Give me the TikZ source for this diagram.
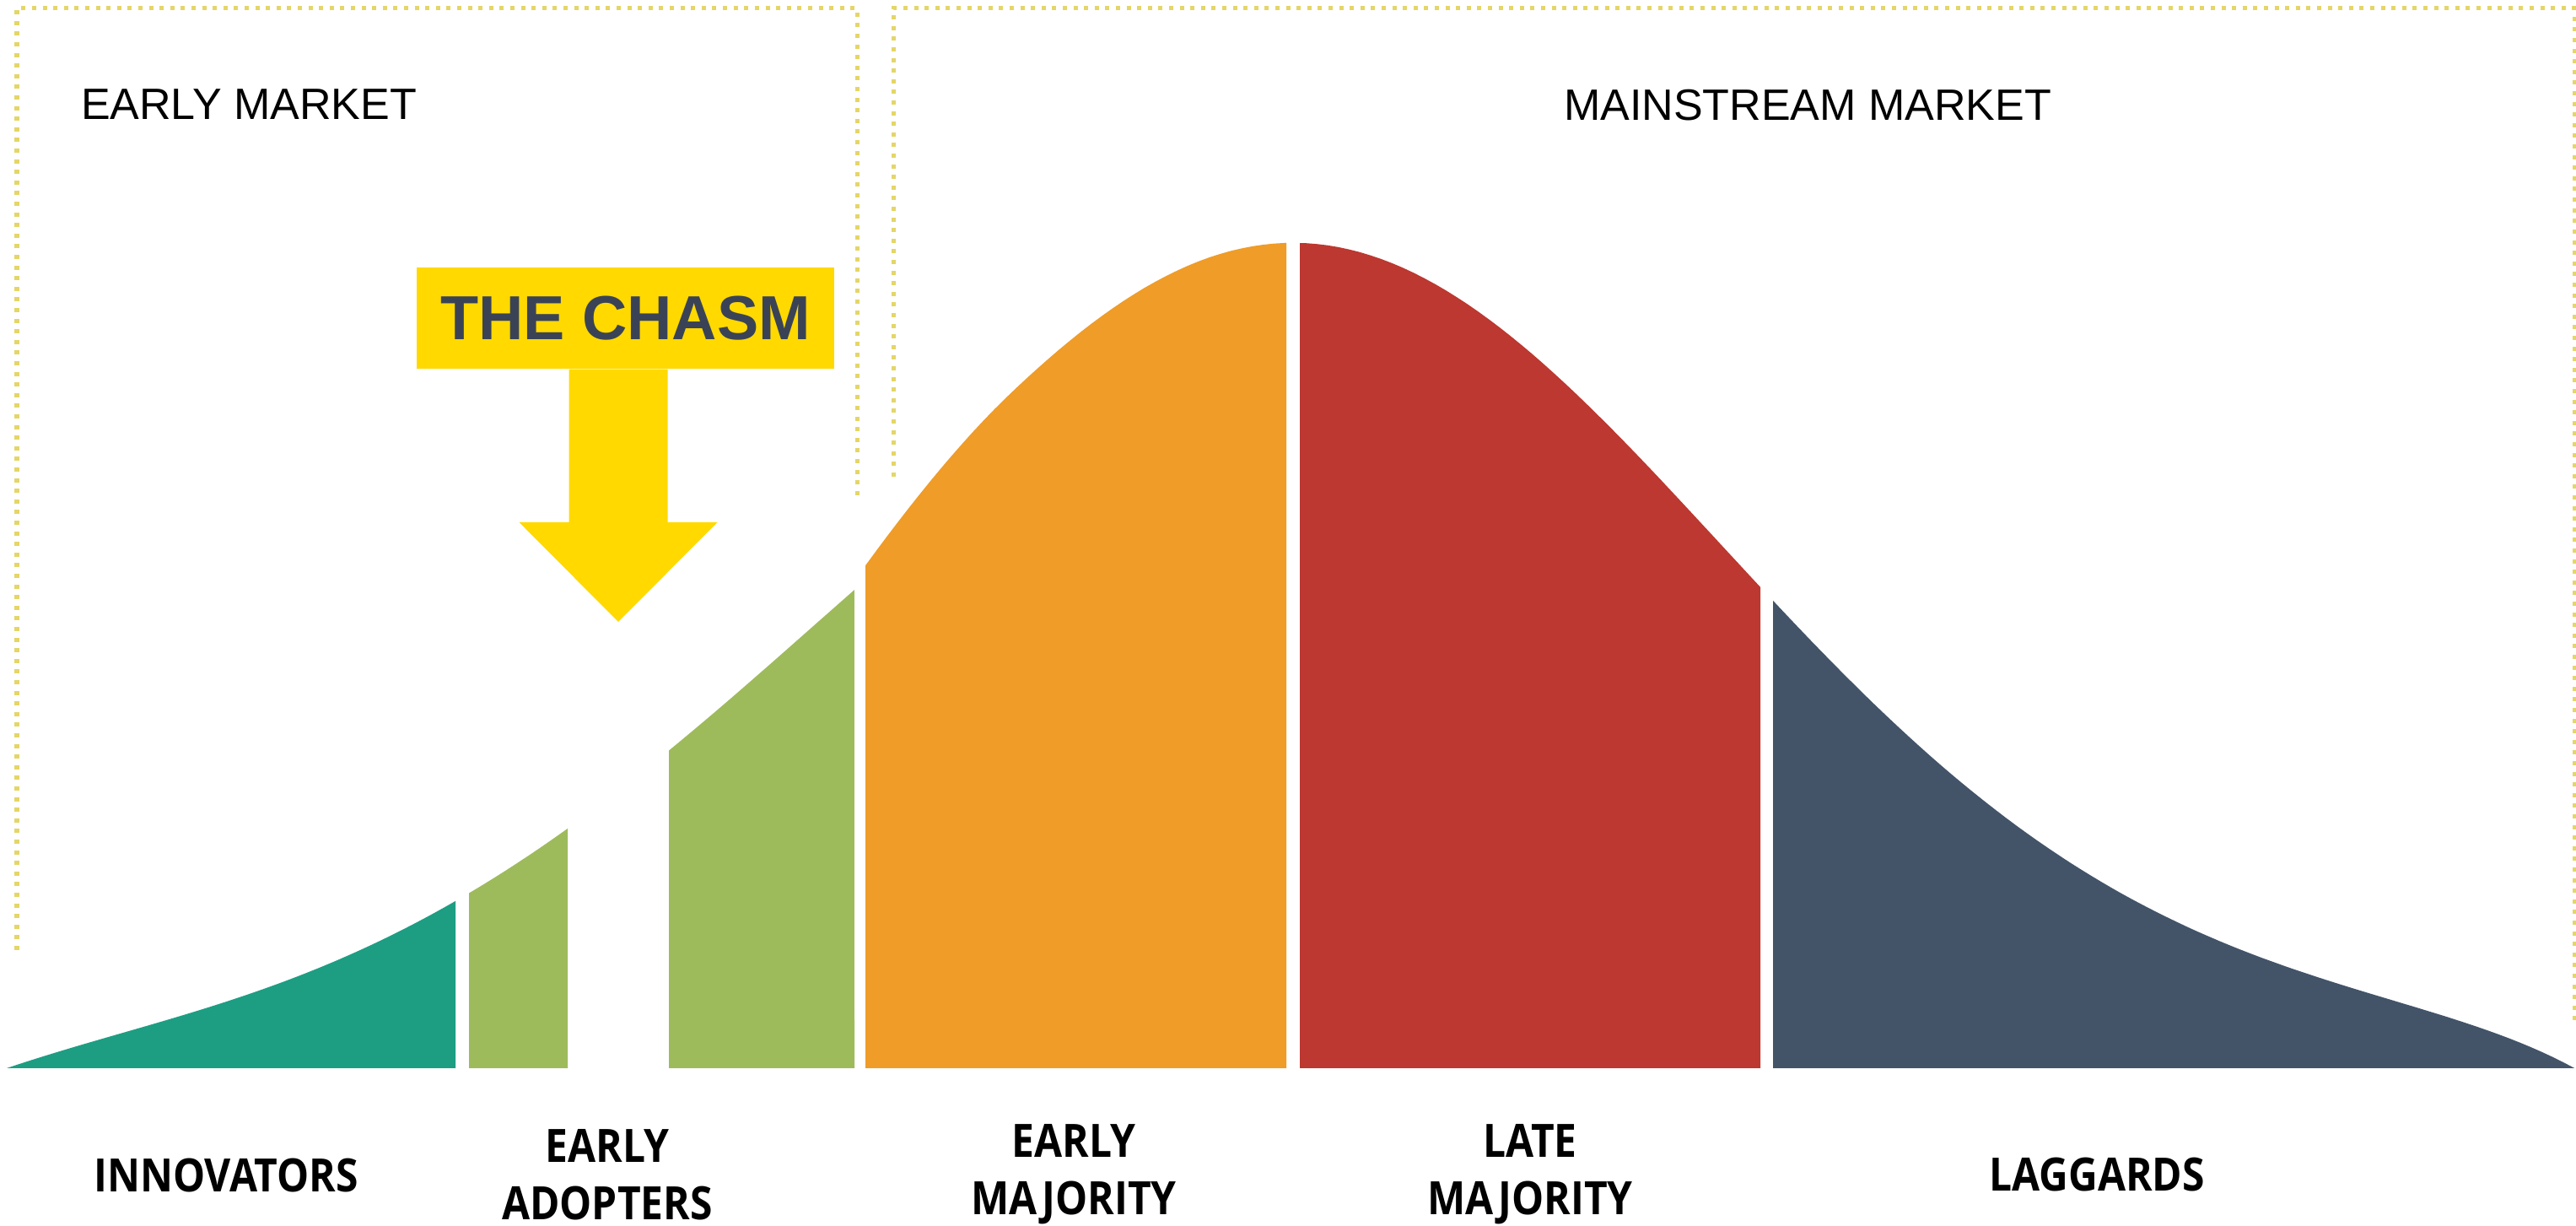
\documentclass[tikz,border=0pt]{standalone}
\usepackage{fontspec}
\setmainfont{Liberation Sans}
\newfontfamily\stagefont{Open Sans}[FakeStretch=0.88]

\definecolor{innovteal}{RGB}{29,158,131}
\definecolor{adoptgreen}{RGB}{158,187,92}
\definecolor{majorange}{RGB}{239,156,40}
\definecolor{latered}{RGB}{188,56,48}
\definecolor{lagslate}{RGB}{67,84,105}
\definecolor{chasmyellow}{RGB}{255,217,0}
\definecolor{chasmtext}{RGB}{58,67,86}
\definecolor{marketdots}{RGB}{228,214,104}

\tikzset{
    marketline/.style = {marketdots, line width=0.05cm, dash pattern=on 0.05cm off 0.076cm},
    marketlabel/.style = {font=\fontsize{14.8}{17}\selectfont},
    stagelabel/.style = {font=\stagefont\bfseries\fontsize{15.5}{19.3}\selectfont, align=center},
    chasmbox/.style = {fill=chasmyellow, text=chasmtext, minimum width=4.95cm, minimum height=1.2cm,
        inner sep=0pt, font=\bfseries\fontsize{21}{25}\selectfont}
}

\begin{document}
\begin{tikzpicture}
                \useasboundingbox (0, -1.87) rectangle (30.54, 12.66);
                \fill [white] (0, -1.87) rectangle (30.54, 12.66);

                \draw [marketline] (0.20, 1.40) |- (10.16, 12.56) -- (10.16, 6.73);
                \draw [marketline] (10.59, 7.01) |- (30.52, 12.56) -- (30.52, 0.56);

                \node [marketlabel] (earlymarket) at (2.95, 11.42) {EARLY MARKET};
                \node [marketlabel] (mainstream) at (21.43, 11.41) {MAINSTREAM MARKET};

                \foreach \xa/\xb/\col in {0/5.40/innovteal, 5.56/6.73/adoptgreen, 7.93/10.13/adoptgreen} {
                    \begin{scope}
                        \clip (\xa, 0) rectangle (\xb, 12);
                        \fill [\col] (0.08, 0) -- plot [domain=0.08:10.13, samples=120]
                            (\x, {exp(-1.2986 + 0.4443*\x - 0.0143*\x*\x)*(1 - ((10.13 - \x)/10.05)^12)})
                            -- (10.13, 0) -- cycle;
                    \end{scope}
                }

                \foreach \xa/\xb/\col in {10.26/15.25/majorange, 15.41/20.87/latered, 21.02/30.54/lagslate} {
                    \begin{scope}
                        \clip (\xa, 0) rectangle (\xb, 12);
                        \fill [\col] (10.26, 0) -- plot [domain=10.26:30.52, samples=160]
                            (\x, {9.78*(0.82*exp(-(\x - 15.33)^2/48) + 0.18*exp(-(\x - 15.33)^2/170))
                                *(1 - ((\x - 15.33)^2/230.8)^8) - 0.083*(max(0, 12 - \x))^2})
                            -- (30.52, 0) -- cycle;
                    \end{scope}
                }

                \node [chasmbox] (chasm) at (7.415, 8.89) {THE CHASM};
                \coordinate (gap) at (7.33, 5.29);
                \fill [chasmyellow] ([xshift=-0.585cm] gap |- chasm.south) |- ([xshift=-1.175cm, yshift=1.18cm] gap)
                    -- (gap) -- ([xshift=1.175cm, yshift=1.18cm] gap) -| ([xshift=0.585cm] gap |- chasm.south) -- cycle;

                \node [stagelabel] (innovators) at (2.68, -1.27) {INNOVATORS};
                \node [stagelabel] (earlyadopters) at (7.20, -1.26) {EARLY\\ADOPTERS};
                \node [stagelabel] (earlymajority) at (12.73, -1.26) {EARLY\\MAJORITY};
                \node [stagelabel] (latemajority) at (18.14, -1.26) {LATE\\MAJORITY};
                \node [stagelabel] (laggards) at (24.86, -1.26) {LAGGARDS};
            \end{tikzpicture}
\end{document}
